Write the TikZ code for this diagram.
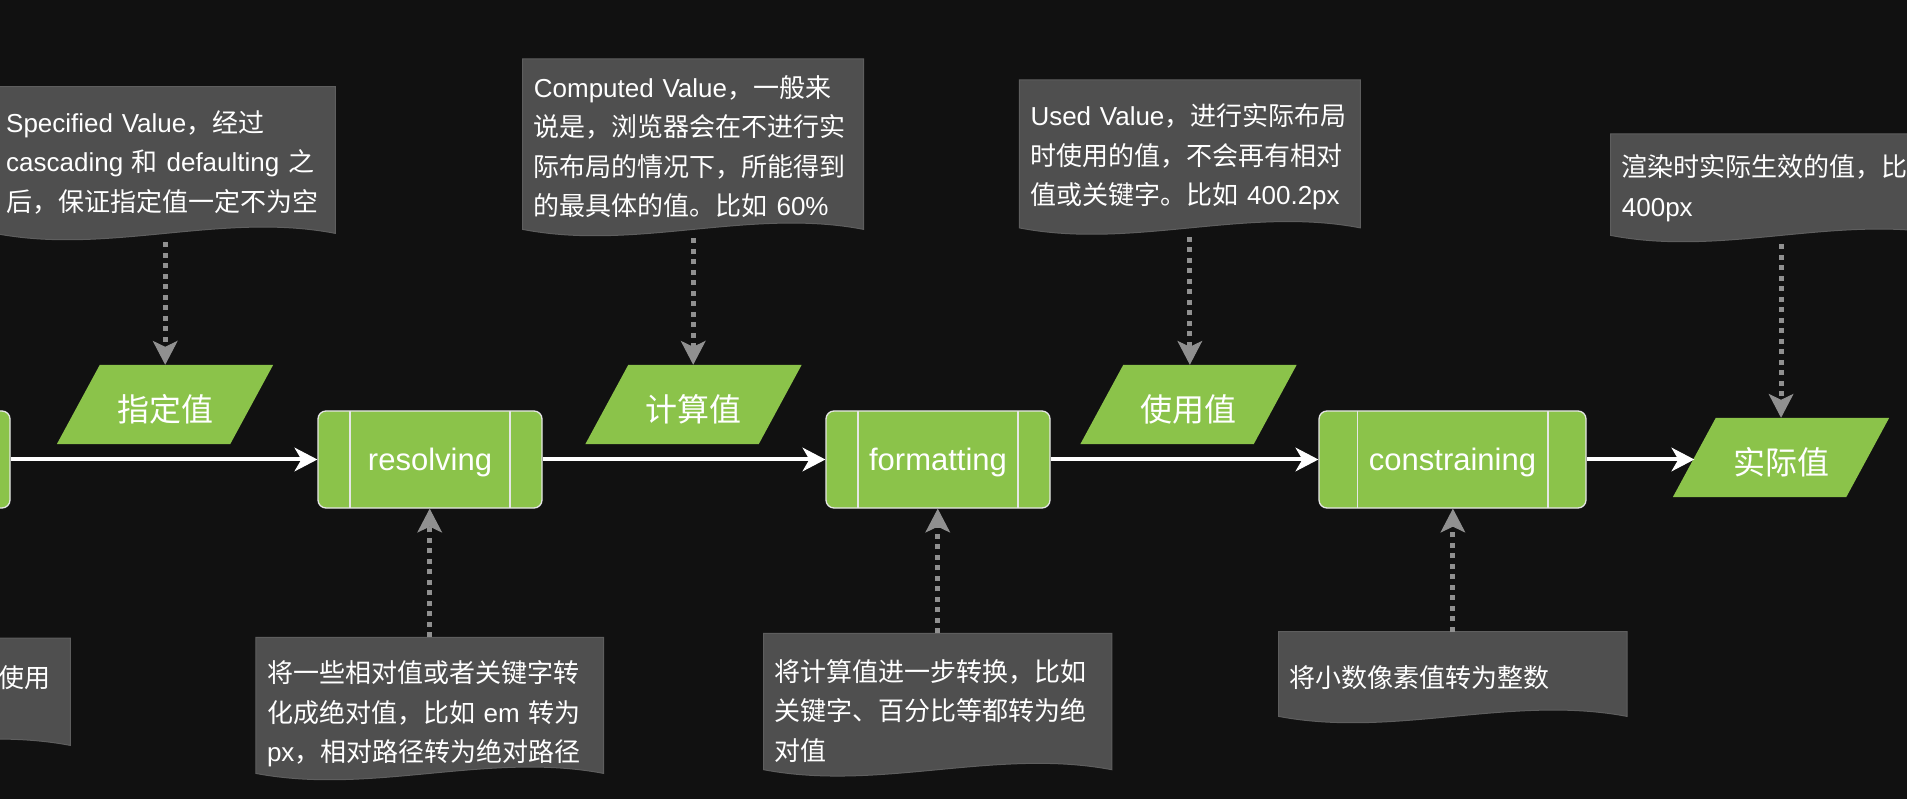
\documentclass[tikz,border=0pt]{standalone}
\usepackage{fontspec}
\setmainfont{Liberation Sans}
\newfontfamily\cjkfont{Noto Sans CJK SC}
\newcommand\zh[1]{{\cjkfont #1}}
\usetikzlibrary{arrows.meta,calc}
\pgfdeclarelayer{backdrop}
\pgfdeclarelayer{shapes}
\pgfsetlayers{backdrop,shapes,main}

\definecolor{canvas}{HTML}{111111}
\definecolor{leaf}{HTML}{8BC34A}
\definecolor{notefill}{HTML}{4F4F4F}
\definecolor{noteedge}{HTML}{5E5E5E}
\definecolor{dotgray}{HTML}{909090}
\definecolor{rim}{HTML}{E6E6E6}

\tikzset{
  proc/.style={draw=rim, line width=1.3pt, fill=leaf, rounded corners=8pt,
    minimum height=97pt, inner sep=0pt, text=white,
    font=\fontsize{31}{31}\selectfont, text height=23pt, text depth=0pt,
    path picture={
      \draw[rim, line width=1.3pt]
        ($(path picture bounding box.north west)!1/7!(path picture bounding box.north east)$) --
        ($(path picture bounding box.south west)!1/7!(path picture bounding box.south east)$)
        ($(path picture bounding box.north west)!6/7!(path picture bounding box.north east)$) --
        ($(path picture bounding box.south west)!6/7!(path picture bounding box.south east)$);
    }},
  val/.style={minimum width=216pt, minimum height=79pt, inner sep=0pt, text=white,
    font=\cjkfont\fontsize{32}{32}\selectfont, text height=34pt, text depth=0pt},
  note/.style={anchor=north west, inner xsep=11pt, inner ysep=0pt, text width=#1,
    align=left, text=white, font=\fontsize{26}{39.5}\selectfont},
  flow/.style={draw=white, line width=4pt,
    -{Stealth[length=23pt, width=24pt, inset=7pt, line width=1pt]}},
  dots/.style={draw=dotgray, line width=5pt, dash pattern=on 5pt off 5.5pt,
    -{Stealth[length=24pt, width=25pt, inset=6pt, line width=1pt]}},
}

% note box with a wavy lower edge, drawn behind the named node
\newcommand\docshape[1]{%
  \begin{pgfonlayer}{shapes}
  \filldraw[fill=notefill, draw=noteedge, line width=1pt]
    (#1.north west) -- (#1.north east) -- (#1.south east)
    .. controls ($(#1.south east)!1/3!(#1.south west)+(0,-22)$)
    and ($(#1.south east)!2/3!(#1.south west)+(0,22)$) .. (#1.south west) -- cycle;
  \end{pgfonlayer}}

% slanted data shape behind a value node
\newcommand\paral[1]{%
  \begin{pgfonlayer}{shapes}
  \fill[leaf] (#1.south west) -- ($(#1.north west)+(43,0)$) -- (#1.north east)
    -- ($(#1.south east)+(-43,0)$) -- cycle;
  \end{pgfonlayer}}

\begin{document}
\begin{tikzpicture}[x=1pt, y=-1pt]
\useasboundingbox (0,0) rectangle (1907,799);
\begin{pgfonlayer}{backdrop}
  \fill[canvas] (0,0) rectangle (1907,799);
\end{pgfonlayer}

% processing steps
\node[proc, minimum width=224pt] (p0) at (-102,459.5) {};
\node[proc, minimum width=224pt] (p1) at (430,459.5) {resolving};
\node[proc, minimum width=224pt] (p2) at (938,459.5) {formatting};
\node[proc, minimum width=267pt] (p3) at (1452.5,459.5) {constraining};

% value stages
\node[val] (v1) at (165,404.5) {指定值};
\node[val] (v2) at (693.5,404.5) {计算值};
\node[val] (v3) at (1188.5,404.5) {使用值};
\node[val] (v4) at (1781,457.5) {实际值};
\paral{v1}\paral{v2}\paral{v3}\paral{v4}

% notes above
\node[note=318pt, text height=45.3pt, text depth=101pt] (c1) at (-5,86.7)
  {Specified Value\zh{，经过}\\cascading \zh{和} defaulting \zh{之}\\\zh{后，保证指定值一定不为空}};
\node[note=318.6pt, text height=38pt, text depth=132pt] (c2) at (522.7,59)
  {Computed Value\zh{，一般来}\\\zh{说是，浏览器会在不进行实}\\\zh{际布局的情况下，所能得到}\\\zh{的最具体的值。比如} 60\%};
\node[note=318.7pt, text height=45.5pt, text depth=102pt] (c3) at (1019.3,80)
  {Used Value\zh{，进行实际布局}\\\zh{时使用的值，不会再有相对}\\\zh{值或关键字。比如} 400.2px};
\node[note=318.3pt, text height=42.5pt, text depth=58.5pt] (c4) at (1610.7,134)
  {\zh{渲染时实际生效的值，比如}\\400px};

% notes below
\node[note=326pt, text height=49.5pt, text depth=57.5pt] (c5) at (-278,638) {};
\node[inner sep=0pt, anchor=base east, text=white, font=\cjkfont\fontsize{26}{26}\selectfont]
  (c5t) at (51,687.5) {使用};
\node[note=325.4pt, text height=45.2pt, text depth=90.5pt] (c6) at (255.8,637.3)
  {\zh{将一些相对值或者关键字转}\\\zh{化成绝对值，比如} em \zh{转为}\\px\zh{，相对路径转为绝对路径}};
\node[note=325.7pt, text height=47.7pt, text depth=88.3pt] (c7) at (763.7,633.3)
  {\zh{将计算值进一步转换，比如}\\\zh{关键字、百分比等都转为绝}\\\zh{对值}};
\node[note=326pt, text height=55.8pt, text depth=28.5pt] (c8) at (1278.7,631.7)
  {\zh{将小数像素值转为整数}};
\docshape{c1}\docshape{c2}\docshape{c3}\docshape{c4}
\docshape{c5}\docshape{c6}\docshape{c7}\docshape{c8}

% main flow
\coordinate (v4in) at ($(v4.west)+(21.5,0)$);
\draw[flow] (p0) -- (p1);
\draw[flow] (p1) -- (p2);
\draw[flow] (p2) -- (p3);
\draw[flow] (p3.east) -- (p3.east -| v4in);

% note connectors
\draw[dots, shorten <=9pt] (c1.south) -- (c1.south |- v1.north);
\draw[dots, shorten <=9pt] (c2.south) -- (c2.south |- v2.north);
\draw[dots, shorten <=9pt] (c3.south) -- (c3.south |- v3.north);
\draw[dots, shorten <=9pt] (c4.south) -- (c4.south |- v4.north);
\draw[dots] (c6.north) -- (c6.north |- p1.south);
\draw[dots] (c7.north) -- (c7.north |- p2.south);
\draw[dots] (c8.north) -- (c8.north |- p3.south);
\end{tikzpicture}
\end{document}
